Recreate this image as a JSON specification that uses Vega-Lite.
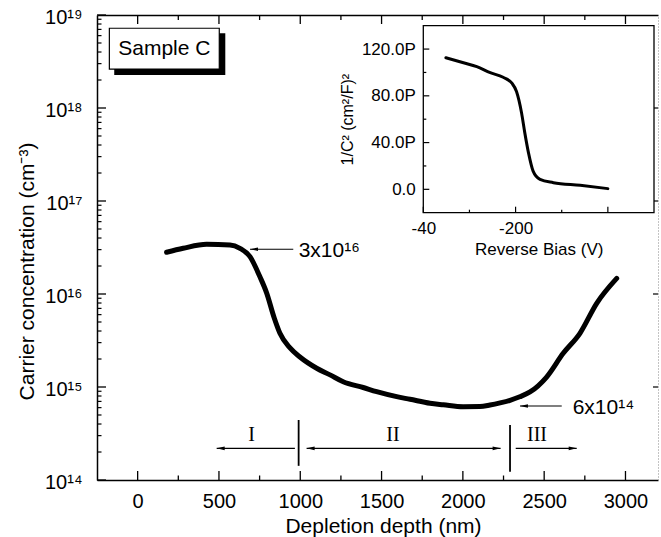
{
  "$schema": "https://vega.github.io/schema/vega-lite/v6.json",
  "width": 561,
  "height": 465,
  "autosize": {"type": "none"},
  "padding": {"left": 97, "top": 15, "right": 3, "bottom": 57},
  "background": "white",
  "config": {
    "font": "Liberation Sans",
    "view": {"stroke": null},
    "axis": {
      "grid": false,
      "zindex": 1,
      "labelFlush": false,
      "domainColor": "black",
      "labelColor": "black",
      "titleColor": "black",
      "titleFontWeight": "normal",
      "labelFont": "Liberation Sans",
      "titleFont": "Liberation Sans",
      "domainWidth": 1.5
    }
  },
  "datasets": {
    "profile": [
      {"depth": 178, "conc": 2.81e16},
      {"depth": 280, "conc": 3.10e16},
      {"depth": 424, "conc": 3.42e16},
      {"depth": 568, "conc": 3.37e16},
      {"depth": 629, "conc": 3.10e16},
      {"depth": 691, "conc": 2.52e16},
      {"depth": 752, "conc": 1.53e16},
      {"depth": 793, "conc": 1.03e16},
      {"depth": 840, "conc": 5.52e15},
      {"depth": 875, "conc": 3.78e15},
      {"depth": 937, "conc": 2.63e15},
      {"depth": 998, "conc": 2.10e15},
      {"depth": 1101, "conc": 1.59e15},
      {"depth": 1183, "conc": 1.35e15},
      {"depth": 1264, "conc": 1.14e15},
      {"depth": 1387, "conc": 9.88e14},
      {"depth": 1470, "conc": 8.90e14},
      {"depth": 1593, "conc": 7.87e14},
      {"depth": 1675, "conc": 7.38e14},
      {"depth": 1798, "conc": 6.68e14},
      {"depth": 1880, "conc": 6.44e14},
      {"depth": 2002, "conc": 6.14e14},
      {"depth": 2105, "conc": 6.16e14},
      {"depth": 2167, "conc": 6.40e14},
      {"depth": 2229, "conc": 6.75e14},
      {"depth": 2290, "conc": 7.2e14},
      {"depth": 2350, "conc": 7.85e14},
      {"depth": 2413, "conc": 8.84e14},
      {"depth": 2515, "conc": 1.28e15},
      {"depth": 2617, "conc": 2.30e15},
      {"depth": 2720, "conc": 3.78e15},
      {"depth": 2823, "conc": 7.94e15},
      {"depth": 2946, "conc": 1.47e16}
    ],
    "cv": [
      {"bias": -351, "invc2": 112.6},
      {"bias": -313, "invc2": 108.3},
      {"bias": -284, "invc2": 105.0},
      {"bias": -255, "invc2": 99.8},
      {"bias": -227, "invc2": 95.9},
      {"bias": -208, "invc2": 90.8},
      {"bias": -198, "invc2": 83.7},
      {"bias": -187, "invc2": 65.3},
      {"bias": -180, "invc2": 48.3},
      {"bias": -172, "invc2": 31.2},
      {"bias": -162, "invc2": 15.6},
      {"bias": -147, "invc2": 8.5},
      {"bias": -118, "invc2": 5.7},
      {"bias": -60, "invc2": 3.4},
      {"bias": 0, "invc2": 0.6}
    ],
    "xmajor": [{"v": 0}, {"v": 500}, {"v": 1000}, {"v": 1500}, {"v": 2000}, {"v": 2500}, {"v": 3000}],
    "xminor": [{"v": 250}, {"v": 750}, {"v": 1250}, {"v": 1750}, {"v": 2250}, {"v": 2750}],
    "ymajor": [{"v": 1e14}, {"v": 1e15}, {"v": 1e16}, {"v": 1e17}, {"v": 1e18}, {"v": 1e19}],
    "ymajorright": [{"v": 1e15}, {"v": 1e16}, {"v": 1e17}, {"v": 1e18}],
    "yminor": [
      {"v": 2e14}, {"v": 3e14}, {"v": 4e14}, {"v": 5e14}, {"v": 6e14}, {"v": 7e14}, {"v": 8e14}, {"v": 9e14},
      {"v": 2e15}, {"v": 3e15}, {"v": 4e15}, {"v": 5e15}, {"v": 6e15}, {"v": 7e15}, {"v": 8e15}, {"v": 9e15},
      {"v": 2e16}, {"v": 3e16}, {"v": 4e16}, {"v": 5e16}, {"v": 6e16}, {"v": 7e16}, {"v": 8e16}, {"v": 9e16},
      {"v": 2e17}, {"v": 3e17}, {"v": 4e17}, {"v": 5e17}, {"v": 6e17}, {"v": 7e17}, {"v": 8e17}, {"v": 9e17},
      {"v": 2e18}, {"v": 3e18}, {"v": 4e18}, {"v": 5e18}, {"v": 6e18}, {"v": 7e18}, {"v": 8e18}, {"v": 9e18}
    ],
    "ixmajor": [{"v": -400}, {"v": -200}, {"v": 0}],
    "ixminor": [{"v": -300}, {"v": -100}],
    "iymajor": [{"v": 0}, {"v": 40}, {"v": 80}, {"v": 120}],
    "iyminor": [{"v": 20}, {"v": 60}, {"v": 100}],
    "box": [{"x1": -174, "x2": 502, "y1": 7.2e18, "y2": 2.62e18}],
    "shadow": [{"x1": -144, "x2": 539, "y1": 6.36e18, "y2": 2.26e18}],
    "boxlabel": [{"x": 164, "y": 4.31e18, "text": "Sample C"}],
    "arrows": [
      {"x1": 957, "x2": 691, "y": 3.03e16},
      {"x1": 2608, "x2": 2351, "y": 6.25e14},
      {"x1": 967, "x2": 486, "y": 2.19e14},
      {"x1": 1039, "x2": 2232, "y": 2.19e14},
      {"x1": 2325, "x2": 2700, "y": 2.19e14}
    ],
    "heads": [
      {"x": 691, "y": 3.03e16, "dir": "left"},
      {"x": 2351, "y": 6.25e14, "dir": "left"},
      {"x": 486, "y": 2.19e14, "dir": "left"},
      {"x": 1039, "y": 2.19e14, "dir": "left"},
      {"x": 2232, "y": 2.19e14, "dir": "right"},
      {"x": 2700, "y": 2.19e14, "dir": "right"}
    ],
    "dividers": [
      {"x": 990, "y1": 4.42e14, "y2": 1.42e14},
      {"x": 2290, "y1": 3.9e14, "y2": 1.23e14}
    ],
    "values": [
      {"x": 978, "y": 3.03e16, "text": "3x10¹⁶"},
      {"x": 2663, "y": 6.25e14, "text": "6x10¹⁴"}
    ],
    "regions": [
      {"x": 701, "y": 3.05e14, "text": "I"},
      {"x": 1570, "y": 3.05e14, "text": "II"},
      {"x": 2456, "y": 3.05e14, "text": "III"}
    ],
    "frame": [{"x1": -400, "x2": 100, "y1": -20, "y2": 140}]
  },
  "layer": [
    {
      "layer": [
        {
          "data": {"name": "shadow"},
          "mark": {"type": "rect", "fill": "black"},
          "encoding": {
            "x": {"field": "x1", "type": "quantitative",
              "scale": {"domain": [-250, 3200], "nice": false, "zero": false},
              "axis": {"orient": "top", "values": [0], "labels": false, "title": null, "ticks": false}},
            "x2": {"field": "x2"},
            "y": {"field": "y1", "type": "quantitative",
              "scale": {"type": "log", "domain": [1e14, 1e19], "nice": false},
              "axis": {"orient": "right", "values": [1e16], "labels": false, "title": null, "ticks": false,
                "domainDash": [1, 2], "domainColor": "#888888", "domainWidth": 1}},
            "y2": {"field": "y2"}
          }
        },
        {
          "data": {"name": "box"},
          "mark": {"type": "rect", "fill": "white", "stroke": "black", "strokeWidth": 1.2},
          "encoding": {
            "x": {"field": "x1", "type": "quantitative", "axis": null,
              "scale": {"domain": [-250, 3200], "nice": false, "zero": false}},
            "x2": {"field": "x2"},
            "y": {"field": "y1", "type": "quantitative", "axis": null,
              "scale": {"type": "log", "domain": [1e14, 1e19], "nice": false}},
            "y2": {"field": "y2"}
          }
        },
        {
          "data": {"name": "boxlabel"},
          "mark": {"type": "text", "fontSize": 21, "align": "center", "baseline": "middle", "color": "black", "font": "Liberation Sans"},
          "encoding": {
            "x": {"field": "x", "type": "quantitative", "axis": null,
              "scale": {"domain": [-250, 3200], "nice": false, "zero": false}},
            "y": {"field": "y", "type": "quantitative", "axis": null,
              "scale": {"type": "log", "domain": [1e14, 1e19], "nice": false}},
            "text": {"field": "text"}
          }
        },
        {
          "data": {"name": "xmajor"},
          "mark": {"type": "tick", "orient": "vertical", "size": 9, "thickness": 1.3, "yOffset": -4.5, "color": "black", "opacity": 1},
          "encoding": {
            "x": {"field": "v", "type": "quantitative", "axis": null,
              "scale": {"domain": [-250, 3200], "nice": false, "zero": false}},
            "y": {"datum": 1e14, "type": "quantitative", "axis": null,
              "scale": {"type": "log", "domain": [1e14, 1e19], "nice": false}}
          }
        },
        {
          "data": {"name": "xminor"},
          "mark": {"type": "tick", "orient": "vertical", "size": 4.5, "thickness": 1.3, "yOffset": -2.25, "color": "black", "opacity": 1},
          "encoding": {
            "x": {"field": "v", "type": "quantitative", "axis": null,
              "scale": {"domain": [-250, 3200], "nice": false, "zero": false}},
            "y": {"datum": 1e14, "type": "quantitative", "axis": null,
              "scale": {"type": "log", "domain": [1e14, 1e19], "nice": false}}
          }
        },
        {
          "data": {"name": "xmajor"},
          "mark": {"type": "tick", "orient": "vertical", "size": 9, "thickness": 1.3, "yOffset": 4.5, "color": "black", "opacity": 1},
          "encoding": {
            "x": {"field": "v", "type": "quantitative", "axis": null,
              "scale": {"domain": [-250, 3200], "nice": false, "zero": false}},
            "y": {"datum": 1e19, "type": "quantitative", "axis": null,
              "scale": {"type": "log", "domain": [1e14, 1e19], "nice": false}}
          }
        },
        {
          "data": {"name": "xminor"},
          "mark": {"type": "tick", "orient": "vertical", "size": 5, "thickness": 1.3, "yOffset": 2.5, "color": "black", "opacity": 1},
          "encoding": {
            "x": {"field": "v", "type": "quantitative", "axis": null,
              "scale": {"domain": [-250, 3200], "nice": false, "zero": false}},
            "y": {"datum": 1e19, "type": "quantitative", "axis": null,
              "scale": {"type": "log", "domain": [1e14, 1e19], "nice": false}}
          }
        },
        {
          "data": {"name": "ymajor"},
          "mark": {"type": "tick", "orient": "horizontal", "size": 9, "thickness": 1.3, "xOffset": 4.5, "color": "black", "opacity": 1},
          "encoding": {
            "x": {"datum": -250, "type": "quantitative", "axis": null,
              "scale": {"domain": [-250, 3200], "nice": false, "zero": false}},
            "y": {"field": "v", "type": "quantitative", "axis": null,
              "scale": {"type": "log", "domain": [1e14, 1e19], "nice": false}}
          }
        },
        {
          "data": {"name": "yminor"},
          "mark": {"type": "tick", "orient": "horizontal", "size": 4.5, "thickness": 1.2, "xOffset": 2.25, "color": "black", "opacity": 1},
          "encoding": {
            "x": {"datum": -250, "type": "quantitative", "axis": null,
              "scale": {"domain": [-250, 3200], "nice": false, "zero": false}},
            "y": {"field": "v", "type": "quantitative", "axis": null,
              "scale": {"type": "log", "domain": [1e14, 1e19], "nice": false}}
          }
        },
        {
          "data": {"name": "ymajorright"},
          "mark": {"type": "tick", "orient": "horizontal", "size": 5, "thickness": 1.2, "xOffset": -2.5, "color": "black", "opacity": 1},
          "encoding": {
            "x": {"datum": 3200, "type": "quantitative", "axis": null,
              "scale": {"domain": [-250, 3200], "nice": false, "zero": false}},
            "y": {"field": "v", "type": "quantitative", "axis": null,
              "scale": {"type": "log", "domain": [1e14, 1e19], "nice": false}}
          }
        },
        {
          "data": {"name": "profile"},
          "mark": {"type": "line", "color": "black", "strokeWidth": 5, "strokeCap": "round", "strokeJoin": "round", "interpolate": "monotone"},
          "encoding": {
            "x": {"field": "depth", "type": "quantitative",
              "scale": {"domain": [-250, 3200], "nice": false, "zero": false},
              "axis": {"orient": "bottom", "values": [0, 500, 1000, 1500, 2000, 2500, 3000],
                "format": "d", "ticks": false,
                "labelPadding": 11, "labelFontSize": 20,
                "title": "Depletion depth (nm)", "titleFontSize": 21, "titleX": 286, "titleY": 35}},
            "y": {"field": "conc", "type": "quantitative",
              "scale": {"type": "log", "domain": [1e14, 1e19], "nice": false},
              "axis": {"orient": "left",
                "values": [1e14, 1e15, 1e16, 1e17, 1e18, 1e19],
                "labelExpr": "datum.value == 1e14 ? '10¹⁴' : datum.value == 1e15 ? '10¹⁵' : datum.value == 1e16 ? '10¹⁶' : datum.value == 1e17 ? '10¹⁷' : datum.value == 1e18 ? '10¹⁸' : datum.value == 1e19 ? '10¹⁹' : ''",
                "ticks": false, "labelOffset": 2,
                "labelPadding": 15, "labelFontSize": 20,
                "title": "Carrier concentration (cm⁻³)", "titleFontSize": 21, "titleX": -60, "titleY": 256}}
          }
        },
        {
          "data": {"name": "arrows"},
          "mark": {"type": "rule", "color": "black", "strokeWidth": 1.2},
          "encoding": {
            "x": {"field": "x1", "type": "quantitative", "axis": null,
              "scale": {"domain": [-250, 3200], "nice": false, "zero": false}},
            "x2": {"field": "x2"},
            "y": {"field": "y", "type": "quantitative", "axis": null,
              "scale": {"type": "log", "domain": [1e14, 1e19], "nice": false}}
          }
        },
        {
          "data": {"name": "heads"},
          "mark": {"type": "point", "filled": true, "color": "black", "opacity": 1, "size": 64, "strokeWidth": 0},
          "encoding": {
            "x": {"field": "x", "type": "quantitative", "axis": null,
              "scale": {"domain": [-250, 3200], "nice": false, "zero": false}},
            "y": {"field": "y", "type": "quantitative", "axis": null,
              "scale": {"type": "log", "domain": [1e14, 1e19], "nice": false}},
            "shape": {"field": "dir", "type": "nominal", "legend": null,
              "scale": {"domain": ["left", "right"], "range": ["M0,0L2,-0.45L2,0.45Z", "M0,0L-2,-0.45L-2,0.45Z"]}}
          }
        },
        {
          "data": {"name": "dividers"},
          "mark": {"type": "rule", "color": "black", "strokeWidth": 1.8},
          "encoding": {
            "x": {"field": "x", "type": "quantitative", "axis": null,
              "scale": {"domain": [-250, 3200], "nice": false, "zero": false}},
            "y": {"field": "y1", "type": "quantitative", "axis": null,
              "scale": {"type": "log", "domain": [1e14, 1e19], "nice": false}},
            "y2": {"field": "y2"}
          }
        },
        {
          "data": {"name": "values"},
          "mark": {"type": "text", "fontSize": 21, "align": "left", "baseline": "middle", "dx": 2, "dy": 2, "color": "black", "font": "Liberation Sans"},
          "encoding": {
            "x": {"field": "x", "type": "quantitative", "axis": null,
              "scale": {"domain": [-250, 3200], "nice": false, "zero": false}},
            "y": {"field": "y", "type": "quantitative", "axis": null,
              "scale": {"type": "log", "domain": [1e14, 1e19], "nice": false}},
            "text": {"field": "text"}
          }
        },
        {
          "data": {"name": "regions"},
          "mark": {"type": "text", "fontSize": 20, "align": "center", "baseline": "middle", "color": "black", "font": "Liberation Serif"},
          "encoding": {
            "x": {"field": "x", "type": "quantitative", "axis": null,
              "scale": {"domain": [-250, 3200], "nice": false, "zero": false}},
            "y": {"field": "y", "type": "quantitative", "axis": null,
              "scale": {"type": "log", "domain": [1e14, 1e19], "nice": false}},
            "text": {"field": "text"}
          }
        }
      ],
      "resolve": {"axis": {"x": "independent", "y": "independent"}}
    },
    {
      "layer": [
        {
          "data": {"name": "frame"},
          "mark": {"type": "rect", "fill": "white", "stroke": "black", "strokeWidth": 1.3},
          "encoding": {
            "x": {"field": "x1", "type": "quantitative", "axis": null,
              "scale": {"domain": [-400, 100], "range": [326.3, 557], "nice": false, "zero": false}},
            "x2": {"field": "x2"},
            "y": {"field": "y1", "type": "quantitative", "axis": null,
              "scale": {"domain": [-20, 140], "range": [197.7, 10.7], "nice": false, "zero": false}},
            "y2": {"field": "y2"}
          }
        },
        {
          "data": {"name": "ixmajor"},
          "mark": {"type": "tick", "orient": "vertical", "size": 6, "thickness": 1.2, "yOffset": -3, "color": "black", "opacity": 1},
          "encoding": {
            "x": {"field": "v", "type": "quantitative", "axis": null,
              "scale": {"domain": [-400, 100], "range": [326.3, 557], "nice": false, "zero": false}},
            "y": {"datum": -20, "type": "quantitative", "axis": null,
              "scale": {"domain": [-20, 140], "range": [197.7, 10.7], "nice": false, "zero": false}}
          }
        },
        {
          "data": {"name": "ixminor"},
          "mark": {"type": "tick", "orient": "vertical", "size": 3, "thickness": 1.2, "yOffset": -1.5, "color": "black", "opacity": 1},
          "encoding": {
            "x": {"field": "v", "type": "quantitative", "axis": null,
              "scale": {"domain": [-400, 100], "range": [326.3, 557], "nice": false, "zero": false}},
            "y": {"datum": -20, "type": "quantitative", "axis": null,
              "scale": {"domain": [-20, 140], "range": [197.7, 10.7], "nice": false, "zero": false}}
          }
        },
        {
          "data": {"name": "iymajor"},
          "mark": {"type": "tick", "orient": "horizontal", "size": 6, "thickness": 1.2, "xOffset": 3, "color": "black", "opacity": 1},
          "encoding": {
            "x": {"datum": -400, "type": "quantitative", "axis": null,
              "scale": {"domain": [-400, 100], "range": [326.3, 557], "nice": false, "zero": false}},
            "y": {"field": "v", "type": "quantitative", "axis": null,
              "scale": {"domain": [-20, 140], "range": [197.7, 10.7], "nice": false, "zero": false}}
          }
        },
        {
          "data": {"name": "iyminor"},
          "mark": {"type": "tick", "orient": "horizontal", "size": 3, "thickness": 1.2, "xOffset": 1.5, "color": "black", "opacity": 1},
          "encoding": {
            "x": {"datum": -400, "type": "quantitative", "axis": null,
              "scale": {"domain": [-400, 100], "range": [326.3, 557], "nice": false, "zero": false}},
            "y": {"field": "v", "type": "quantitative", "axis": null,
              "scale": {"domain": [-20, 140], "range": [197.7, 10.7], "nice": false, "zero": false}}
          }
        },
        {
          "data": {"name": "cv"},
          "mark": {"type": "line", "color": "black", "strokeWidth": 3, "strokeCap": "round", "interpolate": "monotone"},
          "encoding": {
            "x": {"field": "bias", "type": "quantitative",
              "scale": {"domain": [-400, 100], "range": [326.3, 557], "nice": false, "zero": false},
              "axis": {"orient": "bottom", "offset": -267.3, "domain": false, "ticks": false,
                "values": [-400, -200],
                "labelExpr": "datum.value == -400 ? '-40' : '-200'",
                "labelPadding": 8, "labelFontSize": 17,
                "title": "Reverse Bias (V)", "titleFontSize": 17, "titlePadding": 5}},
            "y": {"field": "invc2", "type": "quantitative",
              "scale": {"domain": [-20, 140], "range": [197.7, 10.7], "nice": false, "zero": false},
              "axis": {"orient": "left", "offset": -326.3, "domain": false, "ticks": false,
                "values": [0, 40, 80, 120],
                "labelExpr": "datum.value == 0 ? '0.0' : format(datum.value, '.1f') + 'P'",
                "labelPadding": 8, "labelFontSize": 17,
                "title": "1/C² (cm²/F)²", "titleFontSize": 16, "titlePadding": 6}}
          }
        }
      ],
      "resolve": {"axis": {"x": "independent", "y": "independent"}}
    }
  ],
  "resolve": {"scale": {"x": "independent", "y": "independent"}}
}
